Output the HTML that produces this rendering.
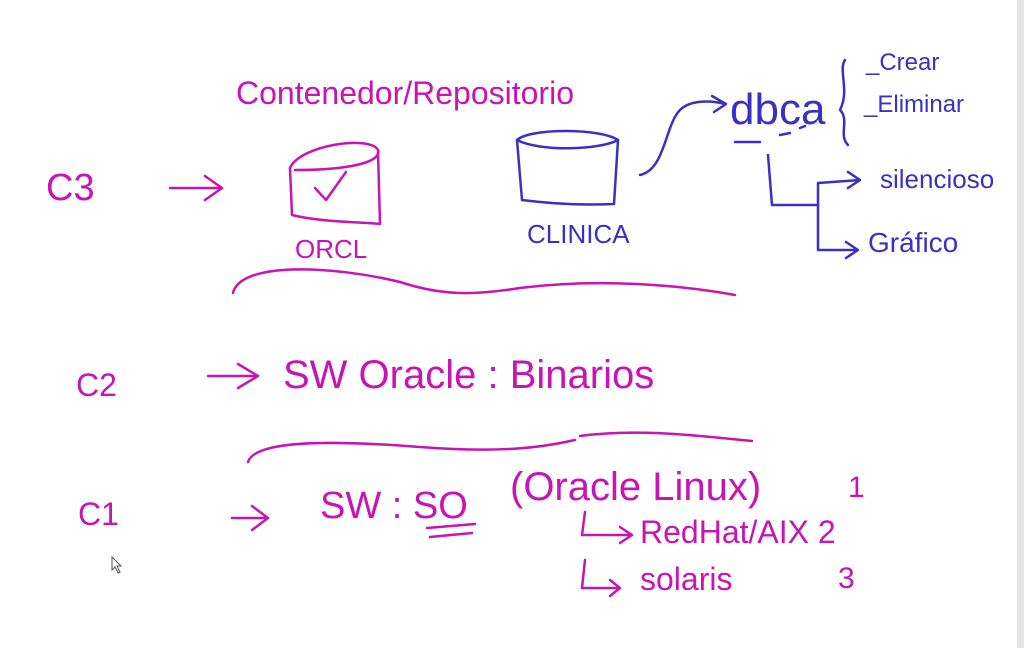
<!DOCTYPE html>
<html><head><meta charset="utf-8"><style>
html,body{margin:0;padding:0;background:#fff;}
svg{display:block;}
text{font-family:"Liberation Sans",sans-serif;}
</style></head><body>
<svg width="1024" height="648" viewBox="0 0 1024 648" xmlns="http://www.w3.org/2000/svg">
<rect width="1024" height="648" fill="#fff"/>
<rect x="1017" y="0" width="7" height="648" fill="#e4e4e4"/>
<g fill="none" stroke="#c814b4" stroke-width="2.5" stroke-linecap="round" stroke-linejoin="round">
  <path d="M170 188 L222 188 M205 176 L222 188 L205 200"/>
  <path d="M290 168 C300 145 370 135 378 150 C382 162 350 170 295 170"/>
  <path d="M290 168 L292 215 C320 222 360 222 380 224 L378 152"/>
  <path d="M315 188 L326 200 L346 172"/>
  <path d="M233 293 C240 262 330 265 400 282 C440 295 470 296 520 288 C600 278 680 285 735 295"/>
  <path d="M208 376 L258 376 M238 364 L258 376 L238 388"/>
  <path d="M248 462 C255 440 330 440 420 447 C500 453 540 448 575 440 M580 436 C640 428 700 436 752 441"/>
  <path d="M232 518 L268 518 M252 506 L268 518 L252 530"/>
  <path d="M427 528 L475 524 M430 537 L472 533"/>
  <path d="M585 512 L582 535 L632 535 M620 527 L632 535 L620 543"/>
  <path d="M585 560 L582 588 L620 588 M610 580 L620 588 L610 596"/>
</g>
<g fill="none" stroke="#3a30c4" stroke-width="2.5" stroke-linecap="round" stroke-linejoin="round">
  <path d="M517 140 C530 128 600 128 618 140 C600 150 540 152 517 140 Z"/>
  <path d="M517 140 L522 200 C560 205 590 205 614 204 L618 140"/>
  <path d="M640 175 C665 170 665 125 680 110 C690 100 710 100 725 104 M712 96 L726 104 L714 112"/>
  <path d="M735 142 L760 142 M780 135 L790 133 M800 128 L805 126"/>
  <path d="M845 60 C838 70 850 90 840 110 C850 120 838 135 848 145"/>
  <path d="M768 155 L772 205 L818 205 L818 183 L860 180 M848 172 L860 180 L848 188"/>
  <path d="M818 205 L818 250 L858 250 M846 242 L858 250 L846 258"/>
</g>
<g fill="#c814b4">
  <text x="236" y="104" font-size="32">Contenedor/Repositorio</text>
  <text x="46" y="200" font-size="38">C3</text>
  <text x="295" y="258" font-size="26">ORCL</text>
  <text x="76" y="396" font-size="32">C2</text>
  <text x="283" y="388" font-size="40">SW Oracle : Binarios</text>
  <text x="78" y="525" font-size="32">C1</text>
  <text x="320" y="518" font-size="38">SW : SO</text>
  <text x="510" y="500" font-size="40">(Oracle Linux)</text>
  <text x="848" y="497" font-size="30">1</text>
  <text x="640" y="543" font-size="32">RedHat/AIX 2</text>
  <text x="640" y="590" font-size="32">solaris</text>
  <text x="838" y="588" font-size="30">3</text>
</g>
<g fill="#3a30c4">
  <text x="527" y="243" font-size="26">CLINICA</text>
  <text x="730" y="124" font-size="44">dbca</text>
  <text x="866" y="70" font-size="24">_Crear</text>
  <text x="864" y="112" font-size="24">_Eliminar</text>
  <text x="880" y="188" font-size="26">silencioso</text>
  <text x="868" y="252" font-size="28">Gráfico</text>
</g>
<path d="M112 557 L112 570 L115 567 L118 573 L120 572 L117 566 L121 566 Z" fill="#fff" stroke="#555" stroke-width="1"/>
</svg>
</body></html>
